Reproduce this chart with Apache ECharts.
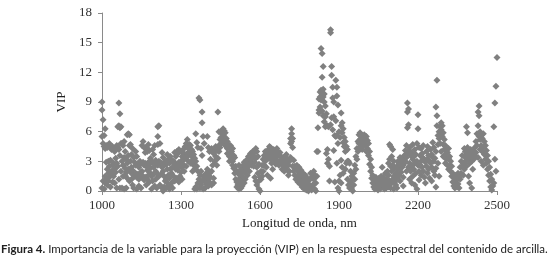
<!DOCTYPE html>
<html>
<head>
<meta charset="utf-8">
<script src="https://cdn.jsdelivr.net/npm/echarts@6/dist/echarts.min.js"></script>
<style>
html,body{margin:0;padding:0;background:#fff;}
#c{width:549px;height:269px;}
</style>
</head>
<body>
<div id="c"></div>
<script>
// x tick labels (nm) and y ticks
const xTicks = [1000, 1300, 1600, 1900, 2200, 2500];
const yTicks = [0, 3, 6, 9, 12, 15, 18];

// VIP values: [wavelength, [values at that wavelength]]
const vip1000 = [
[1000,[9.0,8.2,5.5,0.3]],[1004,[7.2,4.8,1.0]],[1008,[5.6,4.5,0.2]],[1012,[6.3,4.3,1.5,0.8]],
[1016,[4.6,2.9,1.2]],[1020,[4.4,2.2,0.6]],[1024,[3.0,1.8,1.0]],[1028,[4.8,2.5,1.4]],
[1032,[4.4,3.1,0.4]],[1036,[4.2,2.0,1.7]],[1040,[4.5,2.6,0.9]],[1044,[2.8,1.5]],
[1048,[4.0,2.2,0.8]],[1052,[4.4,3.3,1.9]],[1056,[4.6,2.8,0.3]],[1060,[6.5,4.4,2.5]],
[1064,[8.9,6.6,4.2,1.2]],[1068,[7.8,6.4,3.6,0.3]],[1072,[6.5,4.8,2.0]],[1076,[4.8,3.0,0.3]],
[1080,[4.6,2.6,1.5]],[1084,[5.0,3.4,0.2]],[1088,[4.0,2.3,1.6]],[1092,[3.2,1.9,0.3]],
[1096,[5.7,2.8,1.3]],[1100,[5.8,3.6,2.2]],[1104,[5.7,4.6,1.0]],[1108,[4.7,3.0,1.9]],
[1112,[3.7,2.4,1.2]],[1116,[4.3,2.1,0.6]],[1120,[3.4,1.6,0.3]],[1124,[2.9,1.5]],
[1128,[4.0,2.6,1.8]],[1132,[3.5,1.4,0.2]],[1136,[2.7,1.7]],[1140,[2.4,1.2,0.5]],
[1144,[3.0,1.7]],[1148,[2.8,1.9,0.3]],[1152,[4.6,2.0,1.4]],[1156,[5.0,2.9,1.5]],
[1160,[4.4,2.6,1.1]],[1164,[3.9,2.8,1.4]],[1168,[4.4,2.5,0.6]],[1172,[4.0,2.1,1.2]],
[1176,[4.7,2.9,1.6]],[1180,[4.1,2.7,0.9]],[1184,[3.3,2.3,1.8]],[1188,[2.9,1.5,0.2]],
[1192,[4.2,2.9,1.0]],[1196,[3.7,2.4,1.7]]
];
const vip1200 = [
[1200,[4.6,2.9,0.5]],[1204,[3.1,2.0,1.2]],[1208,[2.8,1.8,0.3]],[1212,[6.5,5.5,4.7,2.6]],
[1216,[6.6,3.0,1.5]],[1220,[4.8,2.9,0.6]],[1224,[2.8,1.7]],[1228,[3.9,2.4,0.3]],
[1232,[3.4,2.0,0.0]],[1236,[2.6,1.5,0.4]],[1240,[3.0,1.0]],[1244,[2.7,1.2,0.3]],
[1248,[3.7,2.2,0.8]],[1252,[3.2,1.6]],[1256,[2.8,1.3,0.2]],[1260,[3.5,2.2,0.5]],
[1264,[3.1,1.8]],[1268,[2.4,0.9,0.3]],[1272,[3.0,1.5]],[1276,[3.9,2.7,1.0]],
[1280,[3.5,2.2]],[1284,[4.0,2.6,1.3]],[1288,[3.8,2.1]],[1292,[4.2,2.9,0.9]],
[1296,[4.0,2.5,1.5]],[1300,[3.0,1.9]],[1304,[3.5,2.4,1.2]],[1308,[3.9,2.7]],
[1312,[4.3,3.2,2.0]],[1316,[4.5,3.5]],[1320,[4.8,3.4,2.5]],[1324,[5.2,3.7]],
[1328,[4.3,3.9,3.0]],[1332,[4.7,4.0]],[1336,[4.6,3.6,2.8]],[1340,[4.2,3.6]],
[1344,[4.0,3.1,2.0]],[1348,[3.7,2.6]],[1352,[3.3,2.2,0.2]],[1356,[5.8,3.0,0.4]],
[1360,[4.9,2.5,0.2]],[1364,[4.4,2.0,0.8]],[1368,[9.4,1.2]],[1372,[9.2,1.6,0.3]],
[1376,[4.3,2.0,0.6]],[1380,[8.0,6.9,3.6,1.0]],[1384,[5.5,1.5,0.2]],[1388,[4.8,1.2]],
[1392,[1.6,0.9,0.3]],[1396,[1.8,0.7]]
];
const vip1400 = [
[1400,[5.5,2.2,1.3]],[1404,[4.4,1.5,0.5]],[1408,[4.0,1.8,0.9]],[1412,[3.2,1.4]],
[1416,[4.3,2.0,0.6]],[1420,[4.1,2.6]],[1424,[3.8,1.3,0.8]],[1428,[4.0,3.0]],
[1432,[4.5,3.5]],[1436,[3.3,2.6]],[1440,[8.0,4.1,3.3]],[1444,[6.0,4.6,4.0]],
[1448,[5.2,4.4]],[1452,[6.0,5.4,4.8]],[1456,[5.8,5.0]],[1460,[6.3,5.6,5.1]],
[1464,[6.1,5.3]],[1468,[5.9,5.0,4.6]],[1472,[5.3,4.6]],[1476,[5.0,4.3,3.8]],
[1480,[4.7,3.8]],[1484,[4.4,3.5,3.0]],[1488,[4.6,3.9]],[1492,[4.0,3.3]],
[1496,[4.3,3.0,2.6]],[1500,[3.6,2.3]],[1504,[3.4,1.8]],[1508,[2.5,1.2]],
[1512,[2.0,0.9,0.4]],[1516,[1.8,0.6]],[1520,[2.6,1.2,0.2]],[1524,[1.6,0.8]],
[1528,[2.2,1.0,0.3]],[1532,[1.9,0.5]],[1536,[2.6,1.4]],[1540,[2.9,1.9,0.8]],
[1544,[2.4,1.2]],[1548,[3.1,2.2]],[1552,[2.7,1.6]],[1556,[3.5,2.5]],
[1560,[3.2,2.0]],[1564,[3.8,2.9]],[1568,[3.6,2.6]],[1572,[4.0,3.3]],
[1576,[3.6,2.5]],[1580,[4.0,2.9,1.4]],[1584,[4.3,3.3,1.0]],[1588,[4.0,2.4,0.6]],
[1592,[3.5,1.8]],[1596,[2.7,1.0,0.2]]
];
const vip1600 = [
[1600,[1.4,0.0]],[1604,[2.0,1.2]],[1608,[2.6,1.5]],[1612,[3.2,2.0]],
[1616,[3.6,2.6]],[1620,[4.0,3.0]],[1624,[3.8,2.4]],[1628,[3.4,1.6]],
[1632,[4.2,3.3]],[1636,[4.5,3.7]],[1640,[4.4,3.2,1.3]],[1644,[4.0,2.8]],
[1648,[3.6,2.2]],[1652,[4.2,3.4]],[1656,[4.0,3.1]],[1660,[3.8,2.7]],
[1664,[4.3,3.5]],[1668,[4.0,3.0]],[1672,[3.6,2.6]],[1676,[3.9,3.0]],
[1680,[3.5,2.8]],[1684,[3.2,2.2]],[1688,[3.4,2.6]],[1692,[3.0,2.0]],
[1696,[3.3,2.4]],[1700,[3.7,2.7]],[1704,[3.2,2.1]],[1708,[2.6,1.6]],
[1712,[3.0,2.0]],[1716,[5.3,4.8,3.4]],[1720,[6.3,5.8,5.0]],[1724,[5.3,4.4,2.5]],
[1728,[3.1,2.0]],[1732,[2.5,1.6]],[1736,[2.2,1.2]],[1740,[2.6,1.5]],
[1744,[2.0,0.9]],[1748,[2.4,1.3]],[1752,[1.8,0.7]],[1756,[2.1,1.0]],
[1760,[1.5,0.4]],[1764,[1.8,0.8]],[1768,[1.2,0.2]],[1772,[1.6,0.5]],
[1776,[0.9,0.1]],[1780,[1.3,0.4]],[1784,[0.7,0.0]],[1788,[1.1,0.3]],
[1792,[1.8,0.5]],[1796,[1.4,0.1]]
];
const vip1800 = [
[1800,[1.7,0.6]],[1804,[2.0,1.2]],[1808,[1.6,0.2]],[1812,[0.8,0.0]],
[1816,[4.0,1.5]],[1820,[6.4,4.0]],[1824,[9.3,8.2,7.9]],[1828,[10.0,9.5,8.5]],
[1832,[14.4,10.2,9.2]],[1836,[13.9,11.5,9.8,8.1]],[1840,[12.6,10.3,9.5,7.6]],[1844,[9.8,9.0,7.0]],
[1848,[8.6,7.5,6.5]],[1852,[7.8,6.6,3.8]],[1856,[6.6,4.2,2.8]],[1860,[6.5,3.2]],
[1864,[2.5,1.0]],[1868,[16.3,16.0,6.7]],[1872,[12.6,11.7,7.4]],[1876,[10.5,9.4,6.2]],
[1880,[9.0,7.5,4.1]],[1884,[5.6,0.9]],[1888,[11.2,7.1,5.5]],[1892,[10.5,9.6,5.6,2.8]],
[1896,[8.7,4.8,0.3]],[1900,[6.0,1.0,0.0]],[1904,[5.4,1.6]],[1908,[7.9,6.6,3.1,0.8]],
[1912,[6.9,5.9,2.4]],[1916,[6.3,4.9,1.8]],[1920,[5.4,4.5]],[1924,[5.0,4.0,2.2]],
[1928,[4.5,2.8]],[1932,[4.2,3.0,1.2]],[1936,[3.0,0.6]],[1940,[2.8,0.3]],
[1944,[2.0,0.9]],[1948,[1.5,0.2]],[1952,[1.2,0.0]],[1956,[1.8,0.6]],
[1960,[2.6,1.2]],[1964,[3.5,2.2]],[1968,[4.3,3.2]],[1972,[5.0,4.0]],
[1976,[5.7,4.8]],[1980,[5.9,5.2,4.4]],[1984,[5.5,4.6]],[1988,[5.6,4.9,4.2]],
[1992,[5.4,4.6]],[1996,[5.7,5.0]]
];
const vip2000 = [
[2000,[5.3,4.6]],[2004,[5.5,4.8,4.0]],[2008,[5.1,4.3]],[2012,[4.8,3.6]],
[2016,[4.0,2.7]],[2020,[3.2,2.0]],[2024,[2.4,1.3]],[2028,[1.6,0.8]],
[2032,[1.2,0.4]],[2036,[1.0,0.2]],[2040,[1.4,0.5]],[2044,[1.1,0.3]],
[2048,[0.8,0.1]],[2052,[1.3,0.4]],[2056,[1.0,0.2]],[2060,[1.5,0.6]],
[2064,[2.4,1.1]],[2068,[1.4,0.5]],[2072,[1.0,0.2]],[2076,[1.8,0.8]],
[2080,[1.2,0.3]],[2084,[2.0,0.7]],[2088,[2.8,1.6,0.4]],[2092,[4.7,3.2,1.0]],
[2096,[4.5,2.5,0.3]],[2100,[3.5,2.0,0.8]],[2104,[4.2,2.6,1.2]],[2108,[3.0,1.5,0.2]],
[2112,[2.3,0.9]],[2116,[1.8,0.6]],[2120,[2.5,1.3,0.3]],[2124,[3.0,2.2]],
[2128,[2.8,1.6]],[2132,[3.4,2.6,1.0]],[2136,[2.9,1.9]],[2140,[3.2,2.4]],
[2144,[2.6,1.4,0.5]],[2148,[3.6,2.8]],[2152,[4.1,3.0]],[2156,[4.6,3.4,2.0]],
[2160,[8.9,8.0,6.4,3.8]],[2164,[8.3,6.7,4.1,2.4]],[2168,[4.4,2.8,1.2]],[2172,[3.6,2.0]],
[2176,[3.9,2.5,0.8]],[2180,[4.7,3.2,1.5]],[2184,[3.5,2.2]],[2188,[4.2,2.8,0.6]],
[2192,[3.7,1.8]],[2196,[4.8,3.0,0.2]]
];
const vip2200 = [
[2200,[7.7,6.3,2.6]],[2204,[4.4,2.0,1.1]],[2208,[3.6,2.6]],[2212,[4.3,3.0,1.6]],
[2216,[3.8,2.4]],[2220,[4.6,3.3,2.0]],[2224,[3.2,1.4]],[2228,[2.9,0.8]],
[2232,[4.0,2.5]],[2236,[4.5,3.2,1.8]],[2240,[3.6,2.2]],[2244,[3.0,1.3]],
[2248,[4.2,2.8]],[2252,[3.7,2.4,1.0]],[2256,[4.9,3.4]],[2260,[4.4,3.0,2.0]],
[2264,[3.3,1.6]],[2268,[8.5,4.0,2.3,0.4]],[2272,[11.2,7.6,6.6]],[2276,[5.6,4.7,2.8]],
[2280,[6.0,5.3,1.5]],[2284,[6.5,5.7,4.8]],[2288,[6.9,6.2,4.0]],[2292,[6.6,5.5]],
[2296,[5.9,4.7,3.5]],[2300,[5.2,4.2]],[2304,[4.6,3.7,2.8]],[2308,[4.2,3.2]],
[2312,[3.9,2.6]],[2316,[4.3,3.3,2.2]],[2320,[3.5,2.5]],[2324,[3.0,2.0]],
[2328,[2.5,1.5]],[2332,[1.8,0.9]],[2336,[1.4,0.5]],[2340,[1.0,0.3]],
[2344,[1.6,0.8]],[2348,[1.2,0.4]],[2352,[1.8,0.7]],[2356,[1.4,0.3]],
[2360,[2.4,1.2]],[2364,[3.0,1.8]],[2368,[3.6,2.5]],[2372,[2.8,1.6]],
[2376,[4.3,3.5,2.2]],[2380,[4.0,3.0]],[2384,[6.5,3.7,2.5]],[2388,[5.9,4.4,3.2]],
[2392,[4.0,3.3,1.5]],[2396,[3.6,2.8,0.8]]
];
const vip2400 = [
[2400,[4.2,3.5]],[2404,[3.8,3.0,0.3]],[2408,[3.4,2.2]],[2412,[4.0,3.2]],
[2416,[4.4,3.6]],[2420,[5.0,3.9]],[2424,[5.8,4.6]],[2428,[8.0,6.6,3.4]],
[2432,[8.6,7.6,5.5]],[2436,[6.0,5.2,4.2]],[2440,[5.6,4.6,3.0]],[2444,[5.3,4.0]],
[2448,[5.8,4.4,2.6]],[2452,[5.0,3.7]],[2456,[4.6,3.2]],[2460,[4.1,2.8]],
[2464,[3.6,2.2]],[2468,[3.0,1.6]],[2472,[2.4,1.0]],[2476,[1.7,0.4]],
[2480,[1.2,0.1]],[2484,[0.5]],[2488,[6.5,0.8]],[2492,[8.9,3.2]],
[2496,[10.6,2.0]],[2500,[13.5]]
];

const caption = 'Importancia de la variable para la proyección (VIP) en la respuesta espectral del contenido de arcilla.';

const points = [];
[vip1000, vip1200, vip1400, vip1600, vip1800, vip2000, vip2200, vip2400].forEach(seg =>
  seg.forEach(([w, vs]) => vs.forEach(v => points.push([w, v]))));

const serif = 'Liberation Serif';
const axisColor = '#8a8a8a';
const chart = echarts.init(document.getElementById('c'), null, {renderer: 'canvas'});
chart.setOption({
  animation: false,
  grid: {left: 102, right: 52, top: 13, bottom: 78},
  xAxis: {
    type: 'value', min: 1000, max: 2500,
    splitLine: {show: false},
    axisLine: {show: true, onZero: false, lineStyle: {color: axisColor, width: 1}},
    axisTick: {show: true, length: 4, customValues: xTicks, lineStyle: {color: axisColor}},
    axisLabel: {customValues: xTicks, formatter: v => String(v),
      fontFamily: serif, fontSize: 13, color: '#333', margin: 8},
    name: 'Longitud de onda, nm', nameLocation: 'middle', nameGap: 22,
    nameTextStyle: {fontFamily: serif, fontSize: 13, color: '#222'}
  },
  yAxis: {
    type: 'value', min: 0, max: 18, interval: 3,
    splitLine: {show: false},
    axisLine: {show: true, lineStyle: {color: axisColor, width: 1}},
    axisTick: {show: true, length: 4, lineStyle: {color: axisColor}},
    axisLabel: {fontFamily: serif, fontSize: 13, color: '#333', margin: 10,
      customValues: yTicks, formatter: v => String(v)},
    name: 'VIP', nameLocation: 'middle', nameGap: 32,
    nameTextStyle: {fontFamily: serif, fontSize: 13, color: '#222'}
  },
  series: [{
    type: 'scatter', symbol: 'diamond', symbolSize: 7,
    itemStyle: {color: '#808080', opacity: 1},
    data: points
  }],
  graphic: [{
    type: 'text', left: 1, top: 243,
    style: {
      text: '{b|Figura 4.} ' + caption,
      fontFamily: 'Lato', fontSize: 11.5, fill: '#222',
      rich: {b: {fontFamily: 'Lato', fontSize: 11.5, fontWeight: 'bold', fill: '#222'}}
    }
  }]
});
</script>
</body>
</html>
